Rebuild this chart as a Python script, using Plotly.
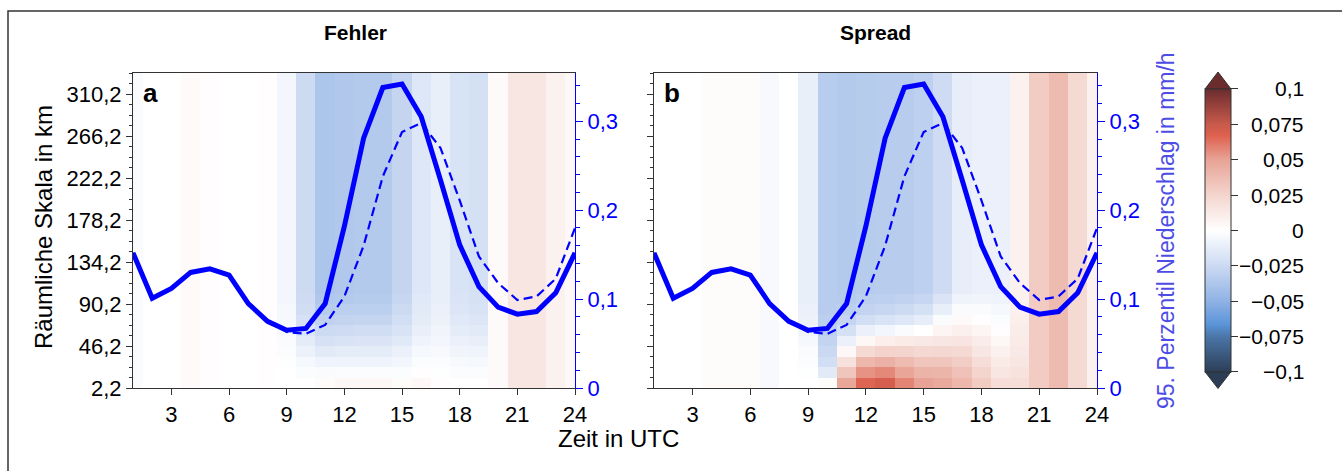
import plotly.graph_objects as go

# ---------------- data ----------------
hours = list(range(1, 25))
x_ticks = [3, 6, 9, 12, 15, 18, 21, 24]
y_left_ticks = [2.2, 46.2, 90.2, 134.2, 178.2, 222.2, 266.2, 310.2]
y_right_ticks = [0, 0.1, 0.2, 0.3]
cb_ticks = [0.1, 0.075, 0.05, 0.025, 0, -0.025, -0.05, -0.075, -0.1]

# centres of the spatial-scale bins (km)
scale_km = [7.7, 18.7, 29.7, 40.7, 51.7, 62.7, 73.7, 84.7, 95.7, 106.7,
            117.7, 128.7, 139.7, 150.7, 161.7, 172.7, 183.7, 194.7, 205.7, 216.7,
            227.7, 238.7, 249.7, 260.7, 271.7, 282.7, 293.7, 304.7, 315.7, 326.7]

# 95th percentile precipitation (mm/h)
precip_solid = [0.152, 0.101, 0.112, 0.130, 0.134, 0.127, 0.095, 0.075, 0.065, 0.067, 0.095, 0.182,
                0.281, 0.338, 0.342, 0.305, 0.234, 0.161, 0.114, 0.091, 0.083, 0.086, 0.107, 0.152]
precip_dashed = [0.152, 0.101, 0.112, 0.130, 0.134, 0.127, 0.095, 0.075, 0.063, 0.061, 0.071, 0.103,
                 0.160, 0.238, 0.288, 0.298, 0.270, 0.211, 0.148, 0.118, 0.099, 0.103, 0.123, 0.180]

# Fehler: lowest 9 bins (bottom -> up), then value for all higher bins
fehler_low = [
    [-0.003, 0, 0, 0.003, 0.001, 0, 0, 0.001, 0, 0, 0.002, 0.005, 0.005, 0.004, 0.002, 0.004, 0.001, 0, 0, 0.003, 0.015, 0.015, 0.008, 0.004],
    [-0.003, 0, 0, 0.003, 0.001, 0, 0, 0.001, 0, -0.002, -0.003, -0.002, -0.002, -0.002, -0.002, 0.001, -0.001, -0.002, -0.002, 0.003, 0.015, 0.015, 0.008, 0.004],
    [-0.003, 0, 0, 0.003, 0.001, 0, 0, 0.001, -0.001, -0.005, -0.008, -0.008, -0.008, -0.008, -0.006, -0.002, -0.002, -0.004, -0.005, 0.003, 0.015, 0.015, 0.008, 0.004],
    [-0.003, 0, 0, 0.003, 0.001, 0, 0, 0.001, -0.002, -0.009, -0.014, -0.013, -0.013, -0.013, -0.010, -0.005, -0.004, -0.007, -0.008, 0.003, 0.015, 0.015, 0.008, 0.004],
    [-0.003, 0, 0, 0.003, 0.001, 0, 0, 0.001, -0.003, -0.013, -0.020, -0.019, -0.018, -0.018, -0.015, -0.008, -0.006, -0.010, -0.011, 0.003, 0.015, 0.015, 0.008, 0.004],
    [-0.003, 0, 0, 0.003, 0.001, 0, 0, 0.001, -0.004, -0.017, -0.025, -0.024, -0.023, -0.023, -0.019, -0.011, -0.007, -0.013, -0.014, 0.003, 0.015, 0.015, 0.008, 0.004],
    [-0.003, 0, 0, 0.003, 0.001, 0, 0, 0.001, -0.005, -0.020, -0.030, -0.029, -0.028, -0.028, -0.022, -0.013, -0.009, -0.015, -0.017, 0.003, 0.015, 0.015, 0.008, 0.004],
    [-0.003, 0, 0, 0.003, 0.001, 0, 0, 0.001, -0.005, -0.023, -0.034, -0.032, -0.032, -0.032, -0.025, -0.014, -0.010, -0.017, -0.019, 0.003, 0.015, 0.015, 0.008, 0.004],
    [-0.003, 0, 0, 0.003, 0.001, 0, 0, 0.001, -0.006, -0.024, -0.036, -0.035, -0.034, -0.034, -0.027, -0.015, -0.011, -0.018, -0.020, 0.003, 0.015, 0.015, 0.008, 0.004],
]
fehler_upper = [-0.003, 0, 0, 0.003, 0.001, 0, 0, 0.001, -0.006, -0.025, -0.038, -0.036, -0.035, -0.035,
                -0.028, -0.016, -0.011, -0.019, -0.021, 0.003, 0.015, 0.015, 0.008, 0.004]

spread_low = [
    [0, 0, 0, 0.002, 0.002, 0.002, -0.004, 0, 0, 0.002, 0.048, 0.066, 0.070, 0.058, 0.050, 0.047, 0.040, 0.030, 0.020, 0.020, 0.030, 0.038, 0.022, 0.008],
    [0, 0, 0, 0.002, 0.002, 0.002, -0.004, 0, -0.001, -0.014, 0.033, 0.054, 0.057, 0.049, 0.042, 0.041, 0.035, 0.025, 0.015, 0.017, 0.030, 0.038, 0.022, 0.008],
    [0, 0, 0, 0.002, 0.002, 0.002, -0.004, 0, -0.002, -0.022, 0.018, 0.040, 0.043, 0.038, 0.033, 0.033, 0.029, 0.020, 0.012, 0.015, 0.030, 0.038, 0.022, 0.008],
    [0, 0, 0, 0.002, 0.002, 0.002, -0.004, 0, -0.003, -0.026, 0.004, 0.022, 0.026, 0.025, 0.023, 0.024, 0.022, 0.015, 0.008, 0.013, 0.030, 0.038, 0.022, 0.008],
    [0, 0, 0, 0.002, 0.002, 0.002, -0.004, 0, -0.005, -0.029, -0.010, 0.005, 0.010, 0.012, 0.013, 0.015, 0.016, 0.011, 0.005, 0.012, 0.030, 0.038, 0.022, 0.008],
    [0, 0, 0, 0.002, 0.002, 0.002, -0.004, 0, -0.007, -0.031, -0.021, -0.010, -0.006, -0.003, 0.000, 0.006, 0.009, 0.006, 0.001, 0.011, 0.030, 0.038, 0.022, 0.008],
    [0, 0, 0, 0.002, 0.002, 0.002, -0.004, 0, -0.009, -0.032, -0.028, -0.022, -0.019, -0.016, -0.012, -0.003, 0.003, 0.001, -0.002, 0.010, 0.030, 0.038, 0.022, 0.008],
    [0, 0, 0, 0.002, 0.002, 0.002, -0.004, 0, -0.010, -0.033, -0.032, -0.029, -0.027, -0.025, -0.021, -0.011, -0.003, -0.003, -0.005, 0.009, 0.030, 0.038, 0.022, 0.008],
    [0, 0, 0, 0.002, 0.002, 0.002, -0.004, 0, -0.011, -0.033, -0.034, -0.032, -0.031, -0.030, -0.027, -0.018, -0.008, -0.007, -0.008, 0.008, 0.030, 0.038, 0.022, 0.008],
]
spread_upper = [0, 0, 0, 0.002, 0.002, 0.002, -0.004, 0, -0.011, -0.033, -0.035, -0.034, -0.033, -0.033,
                -0.031, -0.024, -0.012, -0.010, -0.010, 0.008, 0.030, 0.038, 0.022, 0.008]

fehler_z = fehler_low + [fehler_upper] * (len(scale_km) - len(fehler_low))
spread_z = spread_low + [spread_upper] * (len(scale_km) - len(spread_low))

# ---------------- layout helpers ----------------
W, H = 1342, 471
def px(x):
    return x / W
def py(y):
    return 1 - y / H

FONT = "Liberation Sans, Arial, Helvetica, sans-serif"
BLUE = "#0000ff"
DARK = "#333333"

colorscale = [
    [0.0, "#2c3e56"],
    [0.125, "#4a76a8"],
    [0.17, "#5b95d9"],
    [0.25, "#8fb2e5"],
    [0.375, "#ccdaf2"],
    [0.5, "#ffffff"],
    [0.625, "#f4d5ce"],
    [0.75, "#e8a396"],
    [0.835, "#de614f"],
    [0.875, "#c85a4b"],
    [1.0, "#6b2c2e"],
]

fig = go.Figure()
fig.add_trace(go.Heatmap(x=hours, y=scale_km, z=fehler_z, coloraxis="coloraxis",
                         xaxis="x", yaxis="y", zsmooth=False))
fig.add_trace(go.Heatmap(x=hours, y=scale_km, z=spread_z, coloraxis="coloraxis",
                         xaxis="x2", yaxis="y3", zsmooth=False))
for xa, ya in [("x", "y2"), ("x2", "y4")]:
    fig.add_trace(go.Scatter(x=hours, y=precip_solid, mode="lines",
                             line=dict(color=BLUE, width=5), xaxis=xa, yaxis=ya,
                             showlegend=False))
    fig.add_trace(go.Scatter(x=hours, y=precip_dashed, mode="lines",
                             line=dict(color=BLUE, width=2.2, dash="9px,5px"),
                             xaxis=xa, yaxis=ya, showlegend=False))

ydom = [py(388), py(73)]
common_x = dict(range=[1, 24], tickmode="array", tickvals=x_ticks, ticks="outside",
                ticklen=6, tickcolor=DARK, showline=True, linecolor=DARK, linewidth=1.2,
                mirror=True, showgrid=False, zeroline=False,
                tickfont=dict(size=22, color="black"))
common_yl = dict(range=[2.2, 332.2], tickmode="array", tickvals=y_left_ticks,
                 tickformat=".1f", ticks="outside", ticklen=6, tickcolor=DARK,
                 showline=True, linecolor=DARK, linewidth=1.2, showgrid=False,
                 zeroline=False, tickfont=dict(size=22, color="black"),
                 minor=dict(tickmode="linear", tick0=2.2, dtick=11, ticks="outside",
                            ticklen=3, tickcolor=DARK))
common_yr = dict(range=[0, 0.3543], tickmode="array", tickvals=y_right_ticks,
                 ticks="outside", ticklen=7, tickcolor=BLUE, showline=True,
                 linecolor=BLUE, linewidth=1.2, showgrid=False, zeroline=False,
                 side="right", tickfont=dict(size=22, color=BLUE),
                 minor=dict(tickmode="linear", tick0=0, dtick=0.02, ticks="outside",
                            ticklen=4, tickcolor=BLUE))

fig.update_layout(
    width=W, height=H,
    margin=dict(l=0, r=0, t=0, b=0, autoexpand=False),
    paper_bgcolor="white", plot_bgcolor="white",
    separators=",.",
    font=dict(family=FONT, color="black", size=20),
    showlegend=False,
    xaxis=dict(domain=[px(133), px(575)], anchor="y", **common_x),
    yaxis=dict(domain=ydom, anchor="x", **common_yl),
    yaxis2=dict(overlaying="y", anchor="x", **common_yr),
    xaxis2=dict(domain=[px(654), px(1097)], anchor="y3", **common_x),
    yaxis3=dict(domain=ydom, anchor="x2", showticklabels=False, **common_yl),
    yaxis4=dict(overlaying="y3", anchor="x2", **common_yr),
    coloraxis=dict(
        colorscale=colorscale, cmin=-0.1, cmax=0.1,
        colorbar=dict(x=px(1205), xanchor="left", xpad=0, ypad=0,
                      thickness=26, thicknessmode="pixels",
                      len=283, lenmode="pixels", y=py(230.4), yanchor="middle",
                      tickmode="array", tickvals=cb_ticks, showticklabels=False,
                      ticks="outside", ticklen=7, tickcolor=DARK,
                      outlinewidth=1, outlinecolor=DARK),
    ),
)

annotations = []
def ann(text, x, y, size, color="black", bold=False, angle=0, xanchor="center", yanchor="middle"):
    annotations.append(dict(text=f"<b>{text}</b>" if bold else text, x=px(x), y=py(y),
                            xref="paper", yref="paper", showarrow=False,
                            font=dict(family=FONT, size=size, color=color),
                            textangle=angle, xanchor=xanchor, yanchor=yanchor))

ann("Fehler", 355, 33, 21, bold=True)
ann("Spread", 875, 33, 21, bold=True)
ann("a", 141, 93, 26, bold=True, xanchor="left")
ann("b", 662, 93, 26, bold=True, xanchor="left")
ann("Räumliche Skala in km", 43, 227, 24, angle=-90)
ann("Zeit in UTC", 618, 438, 24)
ann("95. Perzentil Niederschlag in mm/h", 1166, 231, 23, color="#4d4de6", angle=-90)

cb_top, cb_bot = 89.0, 371.7
for v in cb_ticks:
    yv = cb_top + (0.1 - v) / 0.2 * (cb_bot - cb_top)
    s = ("%g" % abs(v)).replace(".", ",")
    if v < 0:
        s = "\u2212" + s
    ann(s, 1306, yv, 21, xanchor="right")

fig.update_layout(annotations=annotations)

# colorbar extension triangles and outer frame
shapes = [
    dict(type="path", xref="paper", yref="paper",
         path=f"M {px(1205)} {py(89)} L {px(1231)} {py(89)} L {px(1218)} {py(72)} Z",
         fillcolor="#6b2c2e", line=dict(color=DARK, width=1)),
    dict(type="path", xref="paper", yref="paper",
         path=f"M {px(1205)} {py(371.7)} L {px(1231)} {py(371.7)} L {px(1218)} {py(388.5)} Z",
         fillcolor="#2c3e56", line=dict(color=DARK, width=1)),
    dict(type="rect", xref="paper", yref="paper", x0=px(8), y0=py(11), x1=px(1360), y1=py(490),
         line=dict(color=DARK, width=1.5), fillcolor="rgba(0,0,0,0)"),
]
fig.update_layout(shapes=shapes)

fig.write_html("out.html", config={"displayModeBar": False},
               post_script="document.body.style.margin='0';document.body.style.overflow='hidden';")
